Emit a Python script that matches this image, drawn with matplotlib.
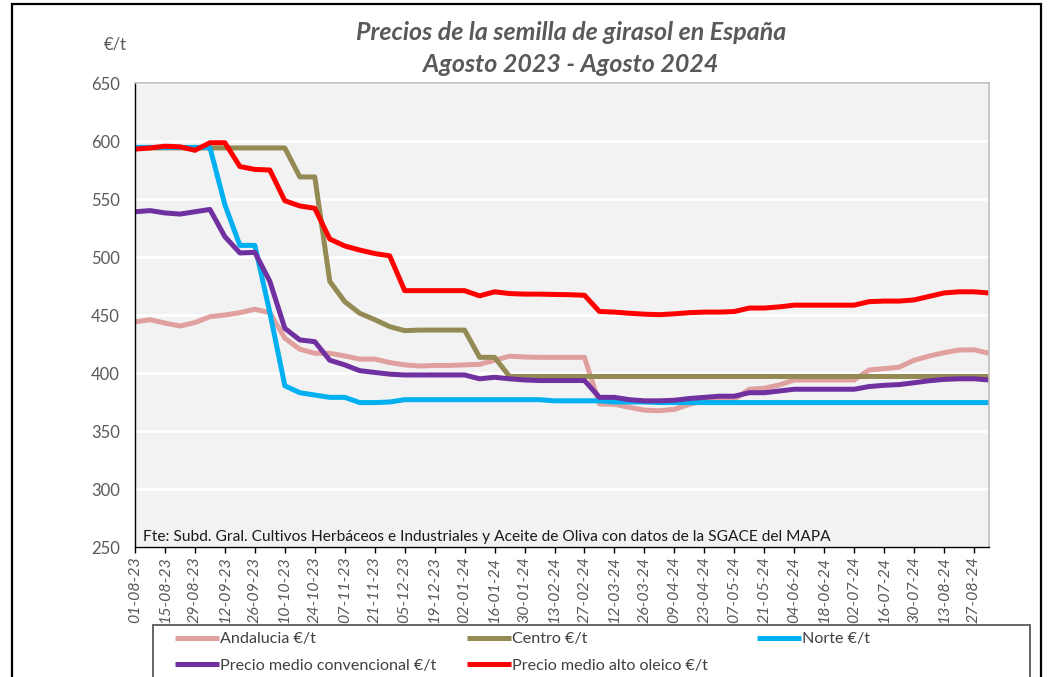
import numpy as np
import pandas as pd
import matplotlib
matplotlib.use("Agg")
import matplotlib.pyplot as plt
from matplotlib import patches

plt.rcParams['font.family'] = ['Lato', 'DejaVu Sans']

# ---------------- data ----------------
dates = pd.date_range('2023-08-01', periods=58, freq='7D')

tick_labels = ['01-08-23', '15-08-23', '29-08-23', '12-09-23', '26-09-23', '10-10-23',
               '24-10-23', '07-11-23', '21-11-23', '05-12-23', '19-12-23', '02-01-24',
               '16-01-24', '30-01-24', '13-02-24', '27-02-24', '12-03-24', '26-03-24',
               '09-04-24', '23-04-24', '07-05-24', '21-05-24', '04-06-24', '18-06-24',
               '02-07-24', '16-07-24', '30-07-24', '13-08-24', '27-08-24']

andalucia = [444, 446, 443, 440.5, 443.5, 448.5, 450, 452, 455, 452,
             430, 420.5, 417, 417, 414.7, 412, 412, 409, 407, 406,
             406.5, 406.5, 407, 407.5, 411, 414.5, 413.8, 413.5, 413.5, 413.5,
             413.5, 373.3, 373, 370.4, 368, 367.5, 368.7, 373, 376, 376.5,
             377.3, 386, 386.8, 389.7, 394, 394, 394, 394, 394, 402.6,
             403.8, 405, 411, 414.6, 417.5, 419.8, 420, 417]

centro = [594, 594, 594, 594, 594, 594, 594, 594, 594, 594,
          594, 569, 569, 479, 461.5, 451.5, 446, 440, 436.5, 437,
          437, 437, 437, 413.5, 413.5, 397, 397, 397, 397, 397,
          397, 397, 397, 397, 397, 397, 397, 397, 397, 397,
          397, 397, 397, 397, 397, 397, 397, 397, 397, 397,
          397, 397, 397, 397, 397, 397, 397, 397]

norte = [594.5, 594.5, 594.5, 594.5, 594.5, 594.5, 545, 510, 510, 452,
         389, 383, 381, 379, 379, 374.5, 374.5, 375, 377, 377,
         377, 377, 377, 377, 377, 377, 377, 377, 376, 376,
         376, 376, 375, 375, 375, 374.5, 374.5, 374.5, 374.5, 374.5,
         374.5, 374.5, 374.5, 374.5, 374.5, 374.5, 374.5, 374.5, 374.5, 374.5,
         374.5, 374.5, 374.5, 374.5, 374.5, 374.5, 374.5, 374.5]

convencional = [539, 540, 538, 537, 539, 541, 517.5, 503.5, 504, 479,
                438.5, 428.5, 427, 411, 407, 402, 400.5, 399, 398.3, 398.3,
                398.3, 398.3, 398.3, 395, 396.3, 395, 394, 393.5, 393.5, 393.5,
                393.5, 379, 379, 377, 376, 376, 376.5, 378, 379, 380,
                380, 383, 383, 384.5, 386, 386, 386, 386, 386, 388.3,
                389.4, 390, 391.6, 393.3, 394.5, 395, 395, 394]

alto_oleico = [593, 594, 595.5, 595, 592, 598.5, 598.5, 578, 575.5, 575,
               548.5, 544, 542, 515.5, 509.5, 506, 503, 501, 471, 471,
               471, 471, 471, 466.5, 470, 468.5, 468, 468, 467.7, 467.5,
               467, 453, 452.5, 451.5, 450.7, 450.3, 451, 452, 452.5, 452.5,
               453, 456, 456, 457, 458.5, 458.5, 458.5, 458.5, 458.5, 461.5,
               462, 462, 463, 466, 469, 470, 470, 469]

series_names = ['Andalucia €/t', 'Centro €/t', 'Norte €/t',
                'Precio medio convencional €/t', 'Precio medio alto oleico €/t']
series_values = [andalucia, centro, norte, convencional, alto_oleico]
series_colors = ['#E0A09E', '#948A54', '#00B0F0', '#7030A0', '#FF0000']

title_1 = 'Precios de la semilla de girasol en España'
title_2 = 'Agosto 2023 - Agosto 2024'
unit_label = '€/t'
source_text = ('Fte: Subd. Gral. Cultivos Herbáceos e Industriales y Aceite de Oliva '
               'con datos de la SGACE del MAPA')

# ---------------- figure ----------------
W, H = 1052, 677
fig = plt.figure(figsize=(W / 100, H / 100), dpi=100)
fig.patch.set_facecolor('white')

ax = fig.add_axes([135 / W, 1 - 547 / H, (989 - 135) / W, (547 - 83) / H])
ax.set_facecolor('#F2F2F2')

lines = []
for name, vals, col in zip(series_names, series_values, series_colors):
    ln, = ax.plot(dates, vals, color=col, lw=3.6, label=name,
                  solid_joinstyle='round', solid_capstyle='butt')
    lines.append(ln)

ax.set_xlim(dates[0], dates[-1])
ax.set_ylim(250, 650)
ax.set_yticks(np.arange(250, 651, 50))
ax.yaxis.grid(True, color='white', lw=2)
ax.set_axisbelow(True)

ax.set_xticks(dates[::2])
ax.set_xticklabels(tick_labels, rotation=90, fontstyle='italic',
                   fontsize=11.5, color='#595959')
ax.tick_params(axis='x', direction='out', length=4, width=1, color='black', pad=3)
ax.tick_params(axis='y', length=0, pad=11, labelsize=12, labelcolor='#595959')

for s in ['left', 'bottom']:
    ax.spines[s].set_color('black')
    ax.spines[s].set_linewidth(1)
for s in ['top', 'right']:
    ax.spines[s].set_color('#BFBFBF')
    ax.spines[s].set_linewidth(1.2)

# source note inside plot
fig.text(143 / W, 1 - 537 / H, source_text, ha='left', va='center',
         fontsize=11.2, color='#1A1A1A')

# titles
fig.text(571 / W, 1 - 32 / H, title_1, ha='center', va='center', fontsize=18,
         fontweight='bold', fontstyle='italic', color='#595959')
fig.text(571 / W, 1 - 64 / H, title_2, ha='center', va='center', fontsize=18,
         fontweight='bold', fontstyle='italic', color='#595959')
fig.text(115 / W, 1 - 45 / H, unit_label, ha='center', va='center', fontsize=12,
         color='#595959')

# legend (three columns)
col_groups = [[0, 3], [1, 4], [2]]
col_x = [175, 467, 757]
for grp, cx in zip(col_groups, col_x):
    fig.legend([lines[i] for i in grp], [series_names[i] for i in grp],
               loc='upper left', bbox_to_anchor=(cx / W, 1 - 632 / H),
               frameon=False, fontsize=11.6, handlelength=2.7,
               handletextpad=0.12, labelspacing=0.78, borderpad=0,
               borderaxespad=0, labelcolor='#404040')

# legend frame and chart frame
fig.add_artist(patches.Rectangle((153 / W, -0.1), (1030 - 153) / W, 0.1 + (677 - 625) / H,
                                 transform=fig.transFigure, fill=False,
                                 edgecolor='#595959', lw=1.3, clip_on=False))
fig.add_artist(patches.Rectangle((12 / W, -0.1), (1041 - 12) / W, 0.1 + (677 - 4) / H,
                                 transform=fig.transFigure, fill=False,
                                 edgecolor='black', lw=1.6, clip_on=False))

fig.savefig('out.png', dpi=100, facecolor='white')
